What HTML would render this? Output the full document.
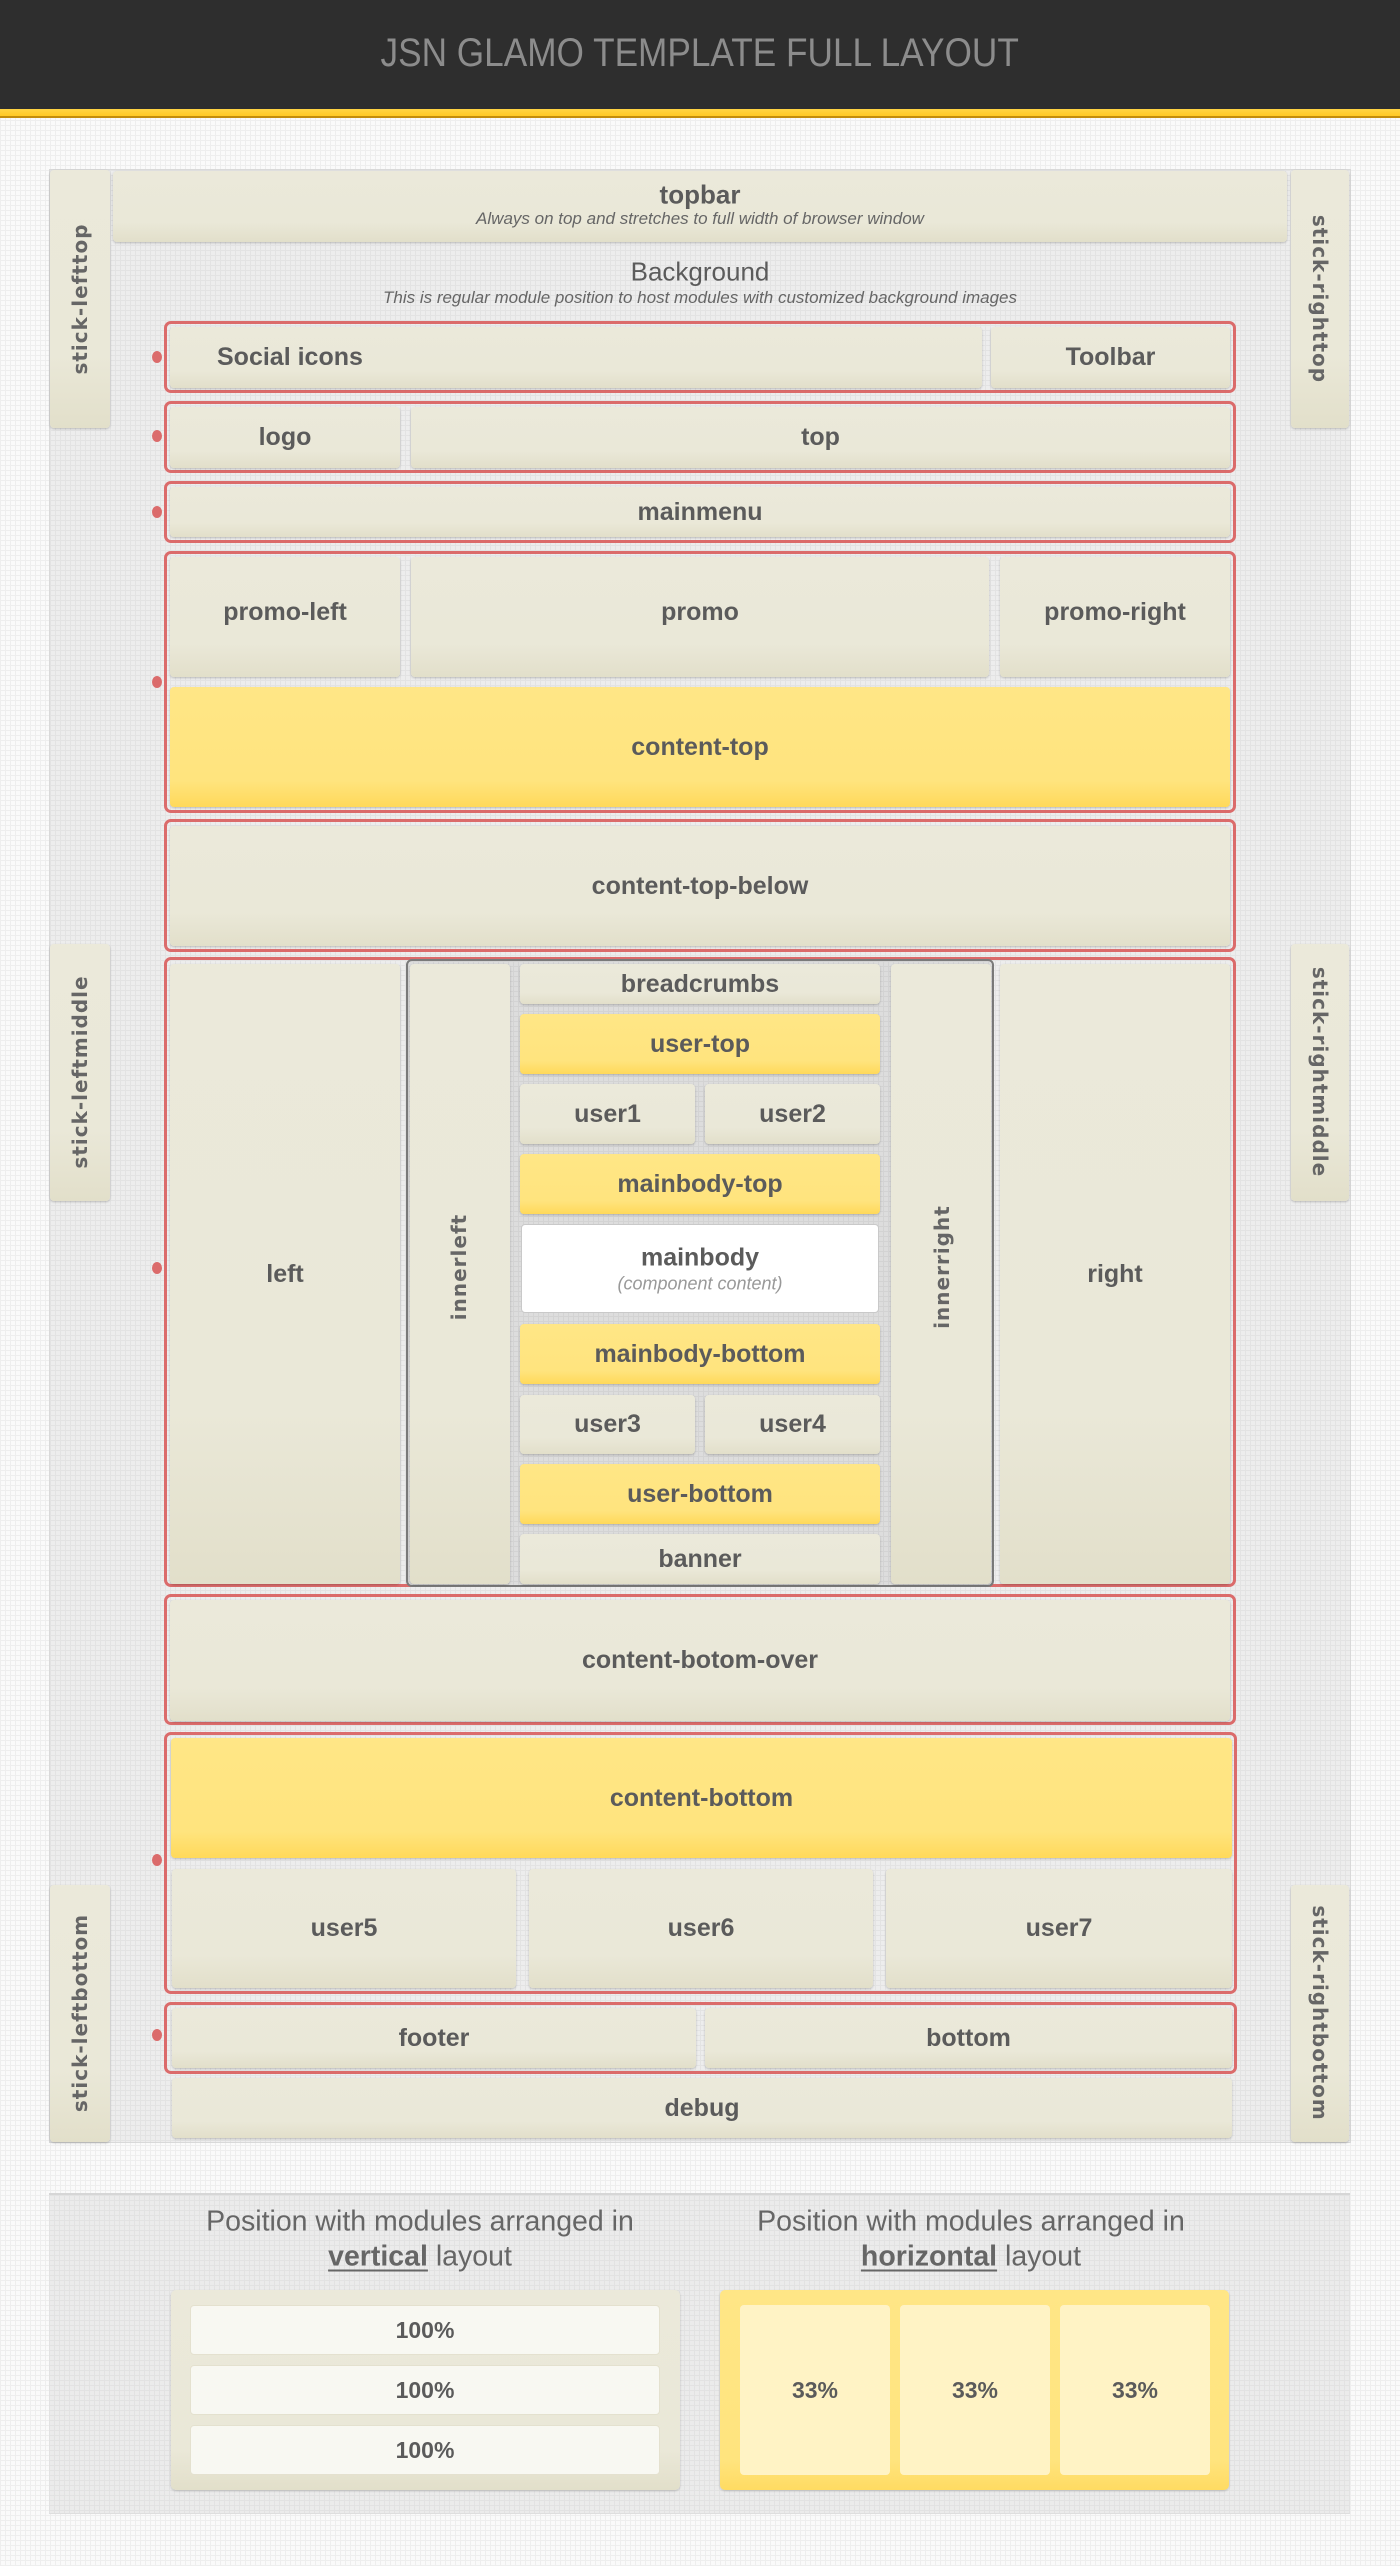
<!DOCTYPE html>
<html>
<head>
<meta charset="utf-8">
<style>
*{margin:0;padding:0;box-sizing:border-box;}
html,body{width:1400px;height:2566px;overflow:hidden;}
body{position:relative;font-family:"Liberation Sans",sans-serif;
background-color:#fafafa;
background-image:linear-gradient(#eeeeee 1px,transparent 1px),linear-gradient(90deg,#eeeeee 1px,transparent 1px);
background-size:5px 5px;}
.hdr{position:absolute;left:0;top:0;width:1400px;height:109px;background:#2e2e2e;}
.stripe{position:absolute;left:0;top:109px;width:1400px;height:9px;background:linear-gradient(#ffd445,#ffc925);border-bottom:2px solid #c38d0c;}
.title{position:absolute;left:0;top:33px;width:1400px;text-align:center;font-size:40px;line-height:40px;color:#8c8c8c;letter-spacing:0;}
.title span{display:inline-block;transform:scaleX(0.88);transform-origin:center;}
.main{position:absolute;left:49px;top:169px;width:1302px;height:1974px;
background-color:#ededed;
background-image:linear-gradient(#e3e3e3 1px,transparent 1px),linear-gradient(90deg,#e3e3e3 1px,transparent 1px);
background-size:5px 5px;border:1px solid #d9d9d9;}
.b{position:absolute;border-radius:4px;
background:linear-gradient(#ebe9da 0%,#eae8d8 72%,#e2dfca 100%);
box-shadow:0 1px 2px rgba(0,0,0,.22);
display:flex;align-items:center;justify-content:center;
font-weight:bold;font-size:25px;color:#5b5b5b;white-space:nowrap;}
.y{background:linear-gradient(#ffe686 0%,#ffe47e 78%,#ffd95a 100%);}
.w{background:#ffffff;border:1px solid #c9c9c9;box-shadow:none;}
.r{position:absolute;border:3px solid #db6b6b;border-radius:7px;}
.dot{position:absolute;width:10px;height:12px;border-radius:50%;background:#db6b6b;}
.rot{position:absolute;white-space:nowrap;font-family:"DejaVu Sans",sans-serif;font-weight:bold;font-size:20px;letter-spacing:1px;color:#666;}
.frame{position:absolute;border:2px solid #7a7a7a;border-radius:6px;
background-color:#dddddd;
background-image:linear-gradient(#d3d3d3 1px,transparent 1px),linear-gradient(90deg,#d3d3d3 1px,transparent 1px);
background-size:5px 5px;}
.t{position:absolute;white-space:nowrap;text-align:center;transform:translate(-50%,-50%);}
.legend{position:absolute;left:49px;top:2193px;width:1301px;height:321px;
background-color:#ebebeb;
background-image:linear-gradient(#e2e2e2 1px,transparent 1px),linear-gradient(90deg,#e2e2e2 1px,transparent 1px);
background-size:5px 5px;border-top:2px solid #d6d6d6;border-bottom:1px solid #dedede;}
.lt{position:absolute;white-space:nowrap;transform:translate(-50%,-50%);font-size:28.5px;color:#666;}
.lt b{text-decoration:underline;text-decoration-thickness:2px;text-underline-offset:4px;}
.lbox{position:absolute;border-radius:5px;box-shadow:0 1px 2px rgba(0,0,0,.2);}
.wb{position:absolute;border-radius:4px;background:#f8f8f2;border:1px solid #e4e1cf;display:flex;align-items:center;justify-content:center;font-weight:bold;font-size:23px;color:#5b5b5b;}
.pb{position:absolute;border-radius:4px;background:#fff3c5;display:flex;align-items:center;justify-content:center;font-weight:bold;font-size:23px;color:#5b5b5b;}
</style>
</head>
<body>
<div class="hdr"></div>
<div class="stripe"></div>
<div class="title"><span>JSN GLAMO TEMPLATE FULL LAYOUT</span></div>

<div class="main"></div>

<!-- sticks -->
<div class="b" style="left:50px;top:170px;width:60px;height:258px;"></div>
<div class="rot" style="left:80px;top:299px;transform:translate(-50%,-50%) rotate(-90deg);">stick-lefttop</div>
<div class="b" style="left:1291px;top:170px;width:58px;height:258px;"></div>
<div class="rot" style="left:1320px;top:299px;transform:translate(-50%,-50%) rotate(90deg);">stick-righttop</div>

<div class="b" style="left:50px;top:944px;width:60px;height:257px;"></div>
<div class="rot" style="left:80px;top:1072px;transform:translate(-50%,-50%) rotate(-90deg);">stick-leftmiddle</div>
<div class="b" style="left:1291px;top:944px;width:58px;height:257px;"></div>
<div class="rot" style="left:1320px;top:1072px;transform:translate(-50%,-50%) rotate(90deg);">stick-rightmiddle</div>

<div class="b" style="left:50px;top:1885px;width:60px;height:257px;"></div>
<div class="rot" style="left:80px;top:2013px;transform:translate(-50%,-50%) rotate(-90deg);">stick-leftbottom</div>
<div class="b" style="left:1291px;top:1885px;width:58px;height:257px;"></div>
<div class="rot" style="left:1320px;top:2013px;transform:translate(-50%,-50%) rotate(90deg);">stick-rightbottom</div>

<!-- topbar -->
<div class="b" style="left:113px;top:171px;width:1174px;height:71px;"></div>
<div class="t" style="left:700px;top:195px;font-weight:bold;font-size:26px;color:#5b5b5b;">topbar</div>
<div class="t" style="left:700px;top:219px;font-style:italic;font-size:17px;color:#666;">Always on top and stretches to full width of browser window</div>

<!-- background -->
<div class="t" style="left:700px;top:272px;font-size:26px;color:#5b5b5b;">Background</div>
<div class="t" style="left:700px;top:298px;font-style:italic;font-size:17px;color:#666;">This is regular module position to host modules with customized background images</div>

<!-- red groups -->
<div class="r" style="left:164px;top:321px;width:1072px;height:72px;"></div>
<div class="r" style="left:164px;top:401px;width:1072px;height:72px;"></div>
<div class="r" style="left:164px;top:481px;width:1072px;height:62px;"></div>
<div class="r" style="left:164px;top:551px;width:1072px;height:262px;"></div>
<div class="r" style="left:164px;top:819px;width:1072px;height:133px;"></div>
<div class="r" style="left:164px;top:957px;width:1072px;height:630px;"></div>
<div class="r" style="left:164px;top:1594px;width:1072px;height:131px;"></div>
<div class="r" style="left:164px;top:1732px;width:1073px;height:262px;"></div>
<div class="r" style="left:164px;top:2002px;width:1073px;height:72px;"></div>

<div class="dot" style="left:152px;top:351px;"></div>
<div class="dot" style="left:152px;top:430px;"></div>
<div class="dot" style="left:152px;top:506px;"></div>
<div class="dot" style="left:152px;top:676px;"></div>
<div class="dot" style="left:152px;top:1262px;"></div>
<div class="dot" style="left:152px;top:1854px;"></div>
<div class="dot" style="left:152px;top:2029px;"></div>

<!-- row 1 -->
<div class="b" style="left:170px;top:327px;width:812px;height:61px;justify-content:flex-start;padding-left:47px;">Social icons</div>
<div class="b" style="left:991px;top:327px;width:239px;height:61px;">Toolbar</div>
<!-- row 2 -->
<div class="b" style="left:170px;top:407px;width:230px;height:61px;">logo</div>
<div class="b" style="left:411px;top:407px;width:819px;height:61px;">top</div>
<!-- row 3 -->
<div class="b" style="left:170px;top:487px;width:1060px;height:50px;">mainmenu</div>
<!-- promo -->
<div class="b" style="left:170px;top:557px;width:230px;height:120px;padding-bottom:10px;">promo-left</div>
<div class="b" style="left:411px;top:557px;width:578px;height:120px;padding-bottom:10px;">promo</div>
<div class="b" style="left:1000px;top:557px;width:230px;height:120px;padding-bottom:10px;">promo-right</div>
<div class="b y" style="left:170px;top:687px;width:1060px;height:120px;">content-top</div>
<!-- content-top-below -->
<div class="b" style="left:170px;top:826px;width:1060px;height:120px;">content-top-below</div>

<!-- middle -->
<div class="b" style="left:170px;top:964px;width:230px;height:620px;">left</div>
<div class="frame" style="left:406px;top:959px;width:588px;height:628px;"></div>
<div class="b" style="left:410px;top:964px;width:100px;height:620px;"></div>
<div class="rot" style="left:459px;top:1267px;transform:translate(-50%,-50%) rotate(-90deg);">innerleft</div>
<div class="b" style="left:891px;top:964px;width:100px;height:620px;"></div>
<div class="rot" style="left:942px;top:1267px;transform:translate(-50%,-50%) rotate(-90deg);">innerright</div>
<div class="b" style="left:1000px;top:964px;width:230px;height:620px;">right</div>

<div class="b" style="left:520px;top:964px;width:360px;height:40px;">breadcrumbs</div>
<div class="b y" style="left:520px;top:1014px;width:360px;height:60px;">user-top</div>
<div class="b" style="left:520px;top:1084px;width:175px;height:60px;">user1</div>
<div class="b" style="left:705px;top:1084px;width:175px;height:60px;">user2</div>
<div class="b y" style="left:520px;top:1154px;width:360px;height:60px;">mainbody-top</div>
<div class="b w" style="left:521px;top:1224px;width:358px;height:89px;"></div>
<div class="t" style="left:700px;top:1258px;font-weight:bold;font-size:25px;color:#5b5b5b;">mainbody</div>
<div class="t" style="left:700px;top:1284px;font-style:italic;font-size:18px;color:#999;">(component content)</div>
<div class="b y" style="left:520px;top:1324px;width:360px;height:60px;">mainbody-bottom</div>
<div class="b" style="left:520px;top:1395px;width:175px;height:59px;">user3</div>
<div class="b" style="left:705px;top:1395px;width:175px;height:59px;">user4</div>
<div class="b y" style="left:520px;top:1464px;width:360px;height:60px;">user-bottom</div>
<div class="b" style="left:520px;top:1534px;width:360px;height:50px;">banner</div>

<!-- lower -->
<div class="b" style="left:170px;top:1600px;width:1060px;height:121px;">content-botom-over</div>
<div class="b y" style="left:171px;top:1738px;width:1061px;height:120px;">content-bottom</div>
<div class="b" style="left:172px;top:1869px;width:344px;height:119px;">user5</div>
<div class="b" style="left:529px;top:1869px;width:344px;height:119px;">user6</div>
<div class="b" style="left:886px;top:1869px;width:346px;height:119px;">user7</div>
<div class="b" style="left:172px;top:2008px;width:524px;height:60px;">footer</div>
<div class="b" style="left:705px;top:2008px;width:527px;height:60px;">bottom</div>
<div class="b" style="left:172px;top:2078px;width:1060px;height:60px;">debug</div>

<!-- legend -->
<div class="legend"></div>
<div class="lt" style="left:420px;top:2222px;">Position with modules arranged in</div>
<div class="lt" style="left:420px;top:2257px;"><b>vertical</b> layout</div>
<div class="lt" style="left:971px;top:2222px;">Position with modules arranged in</div>
<div class="lt" style="left:971px;top:2257px;"><b>horizontal</b> layout</div>

<div class="lbox" style="left:171px;top:2290px;width:509px;height:200px;background:linear-gradient(#ebe9da 0%,#eae8d8 80%,#e2dfca 100%);"></div>
<div class="wb" style="left:190px;top:2305px;width:470px;height:50px;">100%</div>
<div class="wb" style="left:190px;top:2365px;width:470px;height:50px;">100%</div>
<div class="wb" style="left:190px;top:2425px;width:470px;height:50px;">100%</div>

<div class="lbox" style="left:720px;top:2290px;width:509px;height:200px;background:linear-gradient(#ffe686 0%,#ffe47e 85%,#ffdb62 100%);"></div>
<div class="pb" style="left:740px;top:2305px;width:150px;height:170px;">33%</div>
<div class="pb" style="left:900px;top:2305px;width:150px;height:170px;">33%</div>
<div class="pb" style="left:1060px;top:2305px;width:150px;height:170px;">33%</div>
</body>
</html>
